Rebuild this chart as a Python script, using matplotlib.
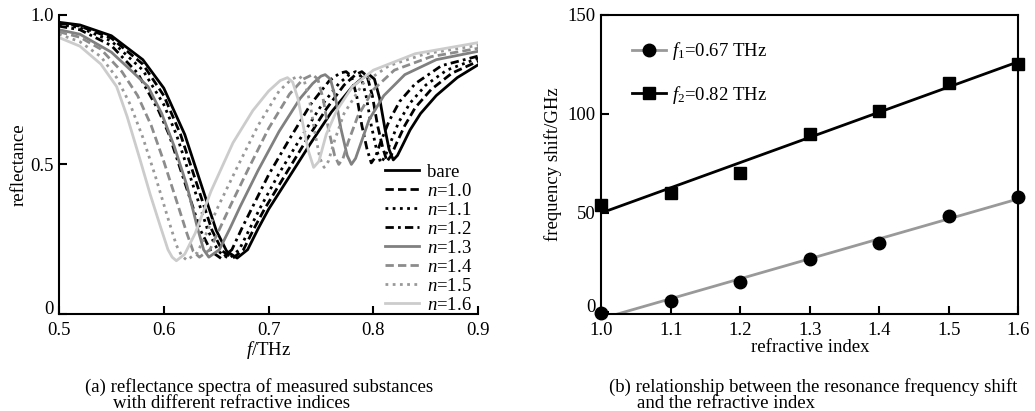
import matplotlib.pyplot as plt
from matplotlib.lines import Line2D
from matplotlib.transforms import ScaledTranslation
import numpy as np

plt.rcParams['font.family'] = 'Liberation Serif'
plt.rcParams['mathtext.fontset'] = 'custom'
plt.rcParams['mathtext.rm'] = 'Liberation Serif'
plt.rcParams['mathtext.it'] = 'Liberation Serif:italic'

#
# (a) reflectance spectra
#
f_bare = [0.50, 0.52, 0.55, 0.58, 0.60, 0.62, 0.635, 0.65, 0.66, 0.67, 0.68, 0.69, 0.70, 0.72, 0.74, 0.76,
          0.78, 0.79, 0.796, 0.801, 0.806, 0.811, 0.815, 0.819, 0.823, 0.828, 0.835, 0.845, 0.86, 0.88, 0.90]
r_bare = [0.975, 0.966, 0.93, 0.85, 0.755, 0.60, 0.44, 0.28, 0.21, 0.187, 0.215, 0.285, 0.35, 0.46, 0.57, 0.675,
          0.76, 0.79, 0.80, 0.785, 0.72, 0.62, 0.55, 0.515, 0.53, 0.565, 0.615, 0.67, 0.73, 0.79, 0.833]

f_n10 = [0.50, 0.52, 0.55, 0.58, 0.60, 0.616, 0.631, 0.646, 0.656, 0.666, 0.676, 0.686, 0.696, 0.715, 0.735, 0.755,
         0.772, 0.783, 0.789, 0.794, 0.799, 0.804, 0.809, 0.813, 0.817, 0.822, 0.83, 0.84, 0.855, 0.875, 0.90]
r_n10 = [0.972, 0.962, 0.922, 0.835, 0.73, 0.60, 0.44, 0.28, 0.21, 0.187, 0.215, 0.285, 0.35, 0.46, 0.575, 0.685,
         0.765, 0.80, 0.81, 0.795, 0.73, 0.63, 0.555, 0.51, 0.53, 0.57, 0.63, 0.69, 0.75, 0.805, 0.845]

f_n11 = [0.50, 0.52, 0.55, 0.58, 0.60, 0.612, 0.627, 0.642, 0.652, 0.662, 0.672, 0.682, 0.692, 0.71, 0.73, 0.75,
         0.767, 0.777, 0.783, 0.788, 0.793, 0.798, 0.803, 0.807, 0.811, 0.816, 0.824, 0.835, 0.85, 0.87, 0.90]
r_n11 = [0.968, 0.957, 0.912, 0.815, 0.70, 0.60, 0.44, 0.28, 0.21, 0.185, 0.215, 0.285, 0.355, 0.47, 0.585, 0.695,
         0.77, 0.80, 0.81, 0.795, 0.73, 0.63, 0.55, 0.505, 0.525, 0.57, 0.64, 0.705, 0.765, 0.815, 0.855]

f_n12 = [0.50, 0.52, 0.55, 0.575, 0.595, 0.605, 0.62, 0.635, 0.645, 0.655, 0.665, 0.675, 0.685, 0.70, 0.72, 0.74,
         0.758, 0.768, 0.774, 0.779, 0.784, 0.789, 0.794, 0.798, 0.802, 0.807, 0.815, 0.825, 0.84, 0.865, 0.90]
r_n12 = [0.962, 0.95, 0.897, 0.805, 0.68, 0.60, 0.44, 0.28, 0.21, 0.185, 0.215, 0.29, 0.36, 0.465, 0.585, 0.70,
         0.78, 0.805, 0.81, 0.795, 0.73, 0.63, 0.55, 0.505, 0.525, 0.575, 0.645, 0.71, 0.77, 0.83, 0.862]

f_n13 = [0.50, 0.52, 0.55, 0.57, 0.585, 0.598, 0.61, 0.622, 0.632, 0.638, 0.643, 0.653, 0.663, 0.673, 0.69, 0.71,
         0.73, 0.742, 0.75, 0.754, 0.759, 0.764, 0.769, 0.775, 0.779, 0.783, 0.788, 0.796, 0.81, 0.83, 0.86, 0.90]
r_n13 = [0.95, 0.935, 0.875, 0.81, 0.76, 0.67, 0.56, 0.43, 0.29, 0.215, 0.19, 0.215, 0.285, 0.36, 0.48, 0.61,
         0.72, 0.77, 0.795, 0.80, 0.785, 0.72, 0.62, 0.53, 0.50, 0.52, 0.57, 0.65, 0.73, 0.80, 0.85, 0.878]

f_n14 = [0.50, 0.52, 0.54, 0.56, 0.575, 0.588, 0.60, 0.612, 0.622, 0.628, 0.634, 0.644, 0.654, 0.664, 0.68, 0.70,
         0.72, 0.733, 0.742, 0.747, 0.752, 0.757, 0.763, 0.767, 0.771, 0.776, 0.785, 0.80, 0.82, 0.855, 0.90]
r_n14 = [0.943, 0.925, 0.885, 0.81, 0.73, 0.63, 0.51, 0.38, 0.27, 0.21, 0.19, 0.215, 0.29, 0.365, 0.48, 0.62,
         0.735, 0.785, 0.80, 0.785, 0.72, 0.62, 0.53, 0.50, 0.52, 0.575, 0.66, 0.75, 0.815, 0.86, 0.888]

f_n15 = [0.50, 0.52, 0.54, 0.555, 0.568, 0.58, 0.592, 0.604, 0.612, 0.617, 0.622, 0.632, 0.642, 0.652, 0.67, 0.69,
         0.71, 0.722, 0.729, 0.734, 0.739, 0.744, 0.749, 0.753, 0.757, 0.763, 0.772, 0.79, 0.815, 0.85, 0.90]
r_n15 = [0.935, 0.91, 0.86, 0.79, 0.70, 0.59, 0.46, 0.32, 0.23, 0.195, 0.18, 0.205, 0.28, 0.36, 0.49, 0.63,
         0.745, 0.785, 0.795, 0.78, 0.715, 0.61, 0.52, 0.49, 0.51, 0.58, 0.67, 0.77, 0.83, 0.87, 0.898]

f_n16 = [0.50, 0.52, 0.54, 0.555, 0.565, 0.577, 0.587, 0.597, 0.604, 0.608, 0.612, 0.62, 0.63, 0.645, 0.666, 0.685,
         0.70, 0.711, 0.718, 0.723, 0.728, 0.733, 0.738, 0.743, 0.748, 0.755, 0.765, 0.78, 0.80, 0.84, 0.90]
r_n16 = [0.924, 0.895, 0.835, 0.76, 0.66, 0.52, 0.40, 0.29, 0.215, 0.19, 0.178, 0.20, 0.27, 0.41, 0.572, 0.68,
         0.745, 0.78, 0.79, 0.775, 0.72, 0.63, 0.545, 0.49, 0.51, 0.60, 0.68, 0.76, 0.815, 0.87, 0.907]

spectra_labels = ['bare', '$n$=1.0', '$n$=1.1', '$n$=1.2', '$n$=1.3', '$n$=1.4', '$n$=1.5', '$n$=1.6']

#
# (b) resonance shift vs refractive index
#
n_index = [1.0, 1.1, 1.2, 1.3, 1.4, 1.5, 1.6]
shift_f1 = [-0.5, 5.4, 15.0, 26.9, 34.6, 48.5, 58.3]
shift_f2 = [54.0, 60.3, 70.3, 89.9, 101.7, 115.7, 125.3]

FS = 13.5


def style_axis(ax, box=False):
    for s in ['left', 'bottom', 'top', 'right']:
        ax.spines[s].set_linewidth(1.5)
    if not box:
        ax.spines['top'].set_visible(False)
        ax.spines['right'].set_visible(False)
    ax.tick_params(direction='in', length=6, width=1.5, labelsize=FS)
    ax.tick_params(axis='x', pad=6)
    ax.tick_params(axis='y', pad=4)


def lift_zero_label(ax):
    # the "0" on the y axis sits a little above its tick so it clears the x labels
    fig.canvas.draw()
    lab = ax.get_yticklabels()[0]
    lab.set_transform(lab.get_transform() + ScaledTranslation(0, 5 / 72, fig.dpi_scale_trans))


fig = plt.figure(figsize=(10.35, 4.11), dpi=100)

ax1 = fig.add_axes([0.057, 0.236, 0.405, 0.728])
curves = [(f_bare, r_bare), (f_n10, r_n10), (f_n11, r_n11), (f_n12, r_n12),
          (f_n13, r_n13), (f_n14, r_n14), (f_n15, r_n15), (f_n16, r_n16)]
colors = ['k', 'k', 'k', 'k', '0.5', '0.55', '0.6', '0.8']
styles = ['-', (0, (3, 1.5)), (0, (1, 1.6)), (0, (3, 1.5, 1, 1.5)),
          '-', (0, (3, 1.5)), (0, (1, 1.6)), '-']
for (f, r), lab, c, ls in zip(curves, spectra_labels, colors, styles):
    ax1.plot(f, r, color=c, ls=ls, lw=2, label=lab)
ax1.set_xlim(0.5, 0.9)
ax1.set_ylim(0, 1.0)
ax1.set_xticks([0.5, 0.6, 0.7, 0.8, 0.9])
ax1.set_yticks([0, 0.5, 1.0])
ax1.set_yticklabels(['0', '0.5', '1.0'])
style_axis(ax1)
ax1.set_xlabel('$f$/THz', fontsize=FS, labelpad=0)
ax1.set_ylabel('reflectance', fontsize=FS, labelpad=2)
ax1.legend(loc='lower right', bbox_to_anchor=(0.985, 0.0), frameon=False, fontsize=FS,
           handlelength=1.8, labelspacing=0.1, handletextpad=0.4, borderaxespad=0, borderpad=0)

ax2 = fig.add_axes([0.581, 0.236, 0.403, 0.728])
xx = np.array([1.0, 1.6])
c1 = np.polyfit(n_index, shift_f1, 1)
c2 = np.polyfit(n_index, shift_f2, 1)
ax2.plot(xx, np.polyval(c1, xx), color='0.6', lw=2)
ax2.plot(xx, np.polyval(c2, xx), color='k', lw=2)
ax2.plot(n_index, shift_f1, 'o', color='k', ms=9, clip_on=False, zorder=4)
ax2.plot(n_index, shift_f2, 's', color='k', ms=9, clip_on=False, zorder=4)
ax2.set_xlim(1.0, 1.6)
ax2.set_ylim(-1, 150)
ax2.set_xticks(n_index)
ax2.set_yticks([0, 50, 100, 150])
style_axis(ax2, box=True)
ax2.set_xlabel('refractive index', fontsize=FS, labelpad=0)
ax2.set_ylabel('frequency shift/GHz', fontsize=FS, labelpad=4)
handles = [Line2D([], [], color='0.6', lw=2, marker='o', mfc='k', mec='k', ms=9),
           Line2D([], [], color='k', lw=2, marker='s', mfc='k', mec='k', ms=9)]
ax2.legend(handles, ['$f_1$=0.67 THz', '$f_2$=0.82 THz'], loc='upper left', frameon=False,
           fontsize=FS, handlelength=1.8, labelspacing=1.15, handletextpad=0.3,
           borderaxespad=0, borderpad=0, bbox_to_anchor=(0.074, 0.915))

lift_zero_label(ax1)
lift_zero_label(ax2)

fig.text(85 / 1035, 1 - 387 / 411, '(a) reflectance spectra of measured substances', fontsize=FS, va='center')
fig.text(113 / 1035, 1 - 403 / 411, 'with different refractive indices', fontsize=FS, va='center')
fig.text(609 / 1035, 1 - 387 / 411, '(b) relationship between the resonance frequency shift', fontsize=FS, va='center')
fig.text(637 / 1035, 1 - 403 / 411, 'and the refractive index', fontsize=FS, va='center')

fig.savefig('out.png', dpi=100)
